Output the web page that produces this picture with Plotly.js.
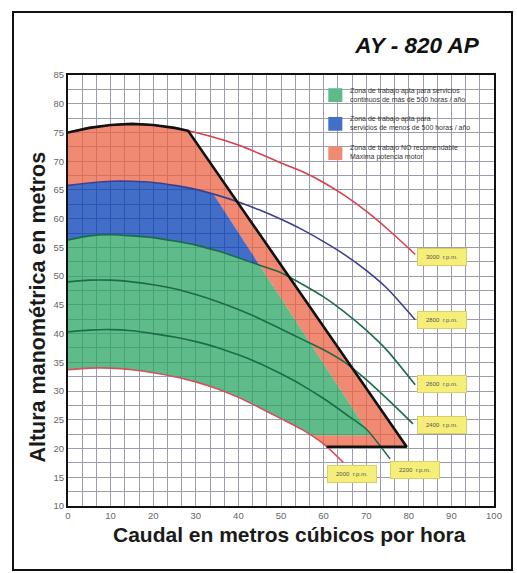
<!DOCTYPE html>
<html><head><meta charset="utf-8">
<script src="https://cdn.plot.ly/plotly-3.0.1.min.js"></script>
<style>html,body{margin:0;padding:0;background:#fff;}#wrap{position:relative;width:517px;height:573px;}#chart{position:absolute;left:0;top:0;width:517px;height:573px;}#frame{position:absolute;left:12px;top:11px;width:497px;height:556px;border:2px solid #111;pointer-events:none;}</style>
</head><body><div id="wrap"><div id="chart"></div><div id="frame"></div></div>
<script>
// ---- data ----
const q3000 = [0,5,10,15,20,25,30,35,40,45,50,55,60,65,70,75,81.5];
const h3000 = [75.0,75.8,76.3,76.5,76.3,75.8,75.0,74.0,72.8,71.3,69.7,68.2,66.3,64.0,61.3,58.2,53.8];
const q2800 = [0,5,10,15,20,25,30,35,40,45,50,55,60,65,70,75,81.5];
const h2800 = [65.8,66.2,66.5,66.5,66.3,65.8,65.1,64.1,62.9,61.5,59.9,58.1,56.0,53.7,51.0,47.8,42.4];
const q2600 = [0,5,10,15,20,25,30,35,40,45,50,55,60,65,70,75,81.5];
const h2600 = [56.3,57.0,57.2,57.0,56.7,56.1,55.4,54.4,53.2,51.9,50.6,48.6,46.4,43.7,40.6,37.0,31.1];
const q2400 = [0,5,10,15,20,25,30,35,40,45,50,55,60,65,70,75,81];
const h2400 = [49.0,49.3,49.3,49.0,48.5,47.8,46.8,45.6,44.2,42.6,40.8,39.0,37.2,35.0,32.0,28.6,24.3];
const q2200 = [0,5,10,15,20,25,30,35,40,45,50,55,60,65,70,75.6];
const h2200 = [40.3,40.6,40.7,40.5,40.0,39.4,38.6,37.6,36.3,34.8,33.0,31.0,28.7,26.1,23.4,18.2];
const q2000 = [0,5,10,15,20,25,30,35,40,45,50,55,60,64.6];
const h2000 = [33.7,34.0,34.0,33.7,33.2,32.5,31.6,30.4,28.9,27.1,25.2,23.3,20.8,17.6];
const rpmLabels = ['3000  r.p.m.','2800  r.p.m.','2600  r.p.m.','2400  r.p.m.','2200  r.p.m.','2000  r.p.m.'];
// limit of the working envelope (black line): corner on the 3000 curve, lower right corner, floor
const limitQ = [28.2, 79.5];
const limitFloorH = 20.3;
// boundary between recommended zones and the "not recommended" strip
const zoneEdgeQ = [32.6, 70.9];
const zoneEdgeH = [66.0, 22.3];
const greenFloorH = 22.3;
const legendTexts = ['Zona de trabajo apta para servicios<br>continuos de más de 500 horas / año',
                     'Zona de trabajo apta para<br>servicios de menos de 500 horas / año',
                     'Zona de trabajo NO recomendable<br>Máxima potencia motor'];

// ---- helpers ----
function interp(qs, hs, q){
  if(q<=qs[0]) return hs[0];
  for(let i=1;i<qs.length;i++){ if(q<=qs[i]){ const t=(q-qs[i-1])/(qs[i]-qs[i-1]); return hs[i-1]+t*(hs[i]-hs[i-1]); } }
  return hs[hs.length-1];
}
const edgeSlope = (zoneEdgeH[1]-zoneEdgeH[0])/(zoneEdgeQ[1]-zoneEdgeQ[0]);
const edgeH = q => zoneEdgeH[0] + (q-zoneEdgeQ[0])*edgeSlope;
const edgeQ = h => zoneEdgeQ[0] + (h-zoneEdgeH[0])/edgeSlope;
function hitEdge(qs, hs){
  let q=0; while(q<qs[qs.length-1] && interp(qs,hs,q) < edgeH(q)) q+=0.02; return q;
}
function qAtH(qs, hs, h){
  let q=qs[qs.length-1]; while(q>0 && interp(qs,hs,q) < h) q-=0.02; return q;
}
function seg(qs, hs, a, b){
  const lo=Math.min(a,b), hi=Math.max(a,b);
  const X=[lo], Y=[interp(qs,hs,lo)];
  for(let i=0;i<qs.length;i++){ if(qs[i]>lo && qs[i]<hi){ X.push(qs[i]); Y.push(hs[i]); } }
  X.push(hi); Y.push(interp(qs,hs,hi));
  if(a>b){ X.reverse(); Y.reverse(); }
  return [X,Y];
}
function join(...parts){ const X=[],Y=[]; parts.forEach(p=>{X.push(...p[0]);Y.push(...p[1]);}); return [X,Y]; }

const i2800 = hitEdge(q2800,h2800);
const i2600 = hitEdge(q2600,h2600);
const f2000 = qAtH(q2000,h2000,limitFloorH);
const g2000 = qAtH(q2000,h2000,greenFloorH);

const redPoly = join(seg(q3000,h3000,0,limitQ[0]), [[limitQ[1], f2000],[limitFloorH, limitFloorH]],
   seg(q2000,h2000,f2000,g2000), [[edgeQ(greenFloorH)],[greenFloorH]], seg(q2800,h2800,i2800,0));
const bluePoly = join(seg(q2800,h2800,0,i2800), seg(q2600,h2600,i2600,0));
const greenPoly = join(seg(q2600,h2600,0,i2600), [[edgeQ(greenFloorH), g2000],[greenFloorH, greenFloorH]], seg(q2000,h2000,g2000,0));
const limitLine = join(seg(q3000,h3000,0,limitQ[0]), [[limitQ[1], f2000],[limitFloorH, limitFloorH]]);

const fillT = (p,c)=>({x:p[0],y:p[1],type:'scatter',mode:'lines',fill:'toself',fillcolor:c,line:{width:0},hoverinfo:'skip'});
const curveT = (q,h,c)=>({x:q,y:h,type:'scatter',mode:'lines',line:{color:c,width:1.6,shape:'spline',smoothing:0.6},hoverinfo:'skip'});

const traces = [
  fillT(redPoly,'rgba(235,99,68,0.75)'),
  fillT(bluePoly,'rgba(3,62,182,0.75)'),
  fillT(greenPoly,'rgba(42,166,99,0.75)'),
  curveT(q3000,h3000,'#d8404c'),
  curveT(q2800,h2800,'#3d3f8e'),
  curveT(q2600,h2600,'#1d6b47'),
  curveT(q2400,h2400,'#1d6b47'),
  curveT(q2200,h2200,'#1d6b47'),
  curveT(q2000,h2000,'#d5505c'),
  {x:limitLine[0],y:limitLine[1],type:'scatter',mode:'lines',line:{color:'#111',width:2.6},hoverinfo:'skip'}
];

const F = 'Liberation Sans, Arial, sans-serif';
const L=67.5,R=494,T=75,B=506;
const labelPos = [[87.7,53.4],[87.9,42.4],[87.7,31.2],[87.7,24.1],[81.4,16.3],[66.6,15.6]];
const annotations = rpmLabels.map((t,i)=>({x:labelPos[i][0],y:labelPos[i][1],xref:'x',yref:'y',text:t,showarrow:false,
  bgcolor:'#f5ef7a',bordercolor:'#d6cf6a',borderwidth:1,width:44,height:12,borderpad:2,font:{family:F,size:6,color:'#555'}}));
const legendY = [81.5,76.6,71.5];
legendTexts.forEach((t,i)=>annotations.push({x:65.8,y:legendY[i],xref:'x',yref:'y',text:t,showarrow:false,xanchor:'left',yanchor:'middle',align:'left',font:{family:F,size:7,color:'#333'}}));
annotations.push({x:(37-L)/(R-L),y:(B-307)/(B-T),xref:'paper',yref:'paper',xanchor:'center',yanchor:'middle',
  text:'<b>Altura manométrica en metros</b>',showarrow:false,textangle:-90,font:{family:F,size:21.5,color:'#1a1a1a'}});
annotations.push({x:(289.5-L)/(R-L),y:(B-534)/(B-T),xref:'paper',yref:'paper',xanchor:'center',yanchor:'middle',
  text:'<b>Caudal en metros cúbicos por hora</b>',showarrow:false,font:{family:F,size:21,color:'#1a1a1a'}});

const legendColors = ['#5dbb8a','#4270c6','#f08a70'];
const sqY = [[80.3,82.7],[75.3,77.7],[70.2,72.6]];
const shapes = legendColors.map((c,i)=>({type:'rect',xref:'x',yref:'y',x0:61.1,x1:64.4,y0:sqY[i][0],y1:sqY[i][1],fillcolor:c,line:{width:0}}));

const grid = '#9c9cab';
const layout = {
  width:517,height:573,margin:{l:L,r:517-R,t:T,b:573-B,pad:0},
  paper_bgcolor:'#fff',plot_bgcolor:'#fff',showlegend:false,
  title:{text:'<b><i>AY - 820 AP</i></b>',x:417/517,xanchor:'center',y:1-45/573,yanchor:'middle',font:{family:F,size:22.5,color:'#111'}},
  xaxis:{range:[0,100],tick0:0,dtick:10,showgrid:true,gridcolor:grid,gridwidth:1,
    minor:{tick0:0,dtick:10/3,showgrid:true,gridcolor:grid,gridwidth:1},
    showline:true,linecolor:'#111',linewidth:2,mirror:true,zeroline:false,ticks:'',
    tickfont:{family:F,size:9.5,color:'#666'},fixedrange:true},
  yaxis:{range:[10,85],tick0:10,dtick:5,showgrid:true,gridcolor:grid,gridwidth:1,
    minor:{tick0:10,dtick:2.5,showgrid:true,gridcolor:grid,gridwidth:1},
    showline:true,linecolor:'#111',linewidth:2,mirror:true,zeroline:false,ticks:'',
    tickfont:{family:F,size:9.5,color:'#666'},fixedrange:true},
  annotations:annotations,shapes:shapes
};
Plotly.newPlot('chart',traces,layout,{staticPlot:true,displayModeBar:false});
</script></body></html>
